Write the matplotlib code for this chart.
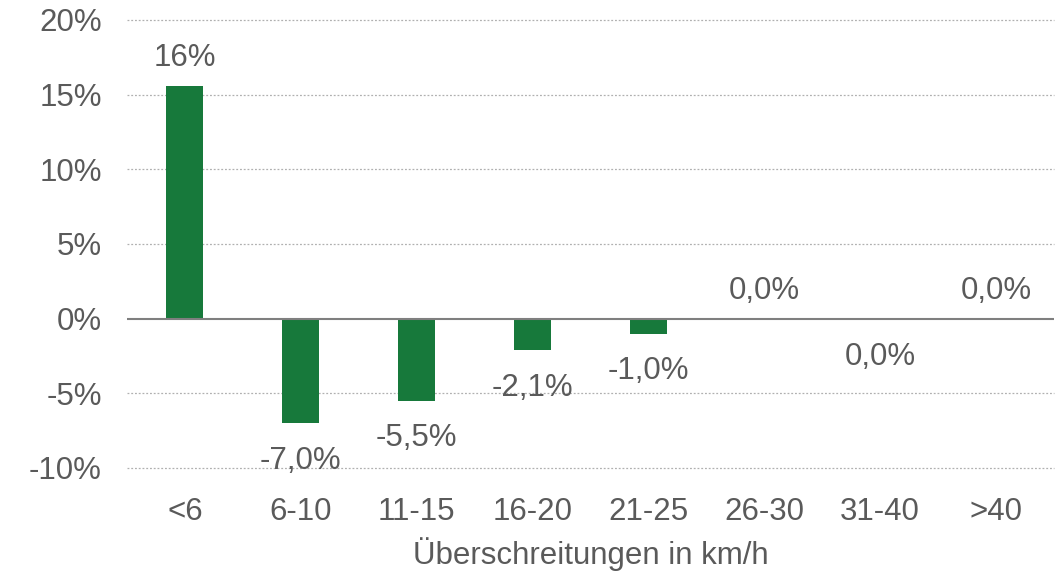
import numpy as np
import matplotlib.pyplot as plt

plt.rcParams['font.family'] = ['Liberation Sans', 'DejaVu Sans']

categories = ['<6', '6-10', '11-15', '16-20', '21-25', '26-30', '31-40', '>40']
values = [15.6, -7.0, -5.5, -2.1, -1.0, 0.0, -0.04, 0.0]
labels = ['16%', '-7,0%', '-5,5%', '-2,1%', '-1,0%', '0,0%', '0,0%', '0,0%']
yticks = [-10, -5, 0, 5, 10, 15, 20]

text_color = '#5a5a5a'
bar_color = '#17793B'
fs = 22.5

fig = plt.figure(figsize=(10.6, 5.71), dpi=100)
ax = fig.add_axes([0.1198, 0.1804, 0.8745, 0.7846])

x = np.arange(len(categories))
ax.bar(x, values, width=0.32, color=bar_color, zorder=3)

# Beschriftungen
for xi, v, lab in zip(x, values, labels):
    off = 20 if v >= 0 else -27
    ax.annotate(lab, (xi, v), xytext=(0, off), textcoords='offset points',
                ha='center', va='center', fontsize=fs, color=text_color)

ax.set_xlim(-0.5, len(categories) - 0.5)
ax.set_ylim(-10, 20)
ax.set_yticks(yticks)
ax.set_yticklabels([f'{t}%' for t in yticks])
ax.set_xticks(x)
ax.set_xticklabels(categories)

for t in yticks:
    if t != 0:
        ax.axhline(t, color='#b0b0b0', lw=0.9, ls=(0, (1.5, 1.5)),
                   zorder=1, clip_on=False)
ax.axhline(0, color='#7f7f7f', lw=1.5, zorder=4)

for s in ax.spines.values():
    s.set_visible(False)
ax.tick_params(axis='both', length=0, labelsize=fs, labelcolor=text_color)
ax.tick_params(axis='y', pad=18)
ax.tick_params(axis='x', pad=21)

ax.set_xlabel('Überschreitungen in km/h', fontsize=fs, color=text_color, labelpad=7)

fig.savefig('out.png', dpi=100)
